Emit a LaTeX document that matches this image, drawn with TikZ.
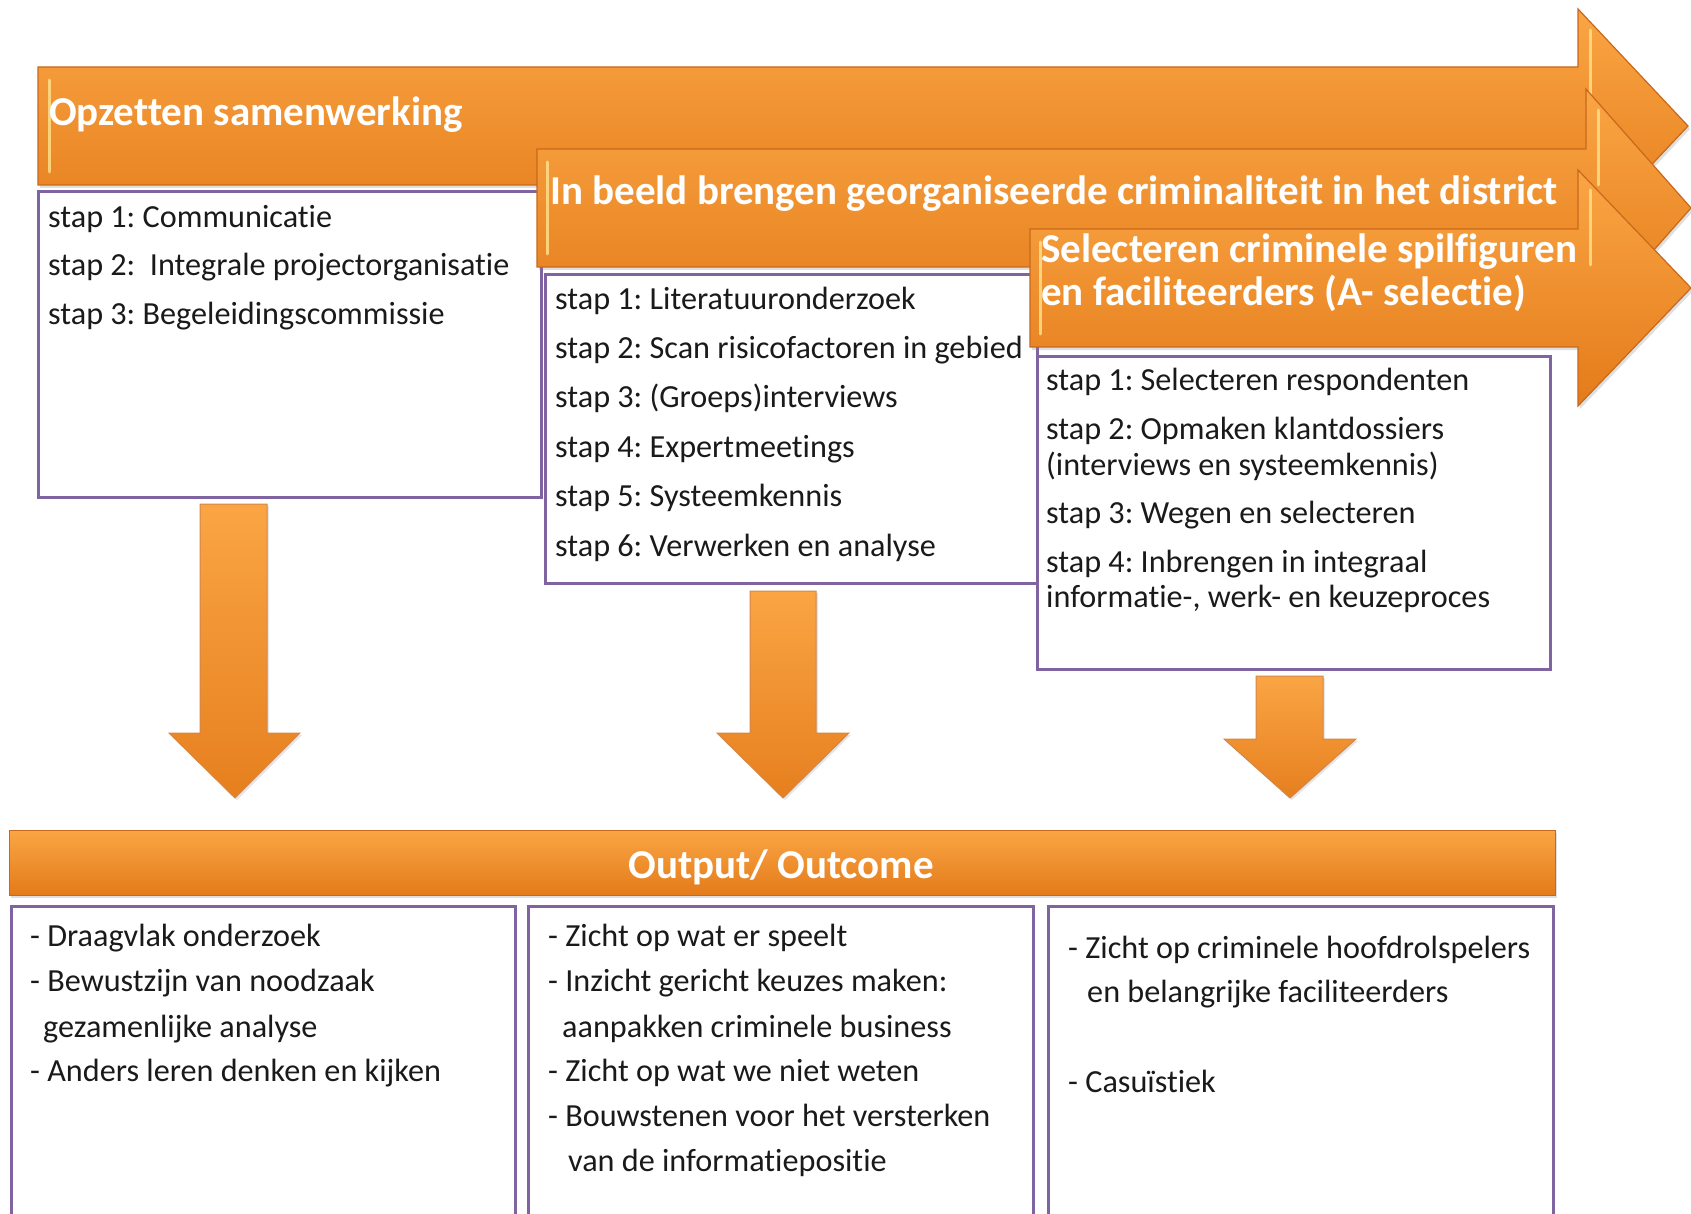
\documentclass[tikz,border=0pt]{standalone}
\usepackage{fontspec}
\setmainfont[Ligatures=NoCommon]{Carlito}
\usetikzlibrary{shadows}
\definecolor{orTop}{HTML}{FAA544}
\definecolor{orBot}{HTML}{E47B1A}
\definecolor{orEdge}{HTML}{C8681C}
\definecolor{boxPurple}{HTML}{8064A2}
\definecolor{hilite}{HTML}{FFE38F}
\definecolor{txt}{HTML}{1A1A1A}
\frenchspacing
\tikzset{
  bigarrow/.style={top color=orTop, bottom color=orBot, draw=orEdge, line width=1.2pt, line join=miter,
    drop shadow={opacity=0.25, shadow xshift=2pt, shadow yshift=-3pt}},
  downarrow/.style={top color=orTop, bottom color=orBot!90!orTop, draw=orEdge!80, line width=1pt, line join=miter,
    drop shadow={opacity=0.2, shadow xshift=2pt, shadow yshift=-2pt}},
  bevel/.style={draw=hilite, line width=3pt, opacity=0.8, line cap=round},
  stepbox/.style={draw=boxPurple, line width=3pt, fill=white},
  headtxt/.style={text=white, font=\fontsize{41}{45}\selectfont\bfseries, anchor=base west, inner sep=0pt},
  bodytxt/.style={text=txt, font=\fontsize{32.2}{37}\selectfont, anchor=base west, inner sep=0pt},
}
\begin{document}
\begin{tikzpicture}[x=1pt,y=-1pt]
\useasboundingbox[fill=white] (0,0) rectangle (1691,1214);

% ---- arrow 1 ----
\path[bigarrow] (38,67) -- (1578,67) -- (1578,9) -- (1688,126) -- (1578,243) -- (1578,185) -- (38,185) -- cycle;
\draw[bevel] (49,80) -- (49,172);
\draw[bevel] (1590,30) -- (1590,105);
\node[headtxt] (h1) at (49,126) {Opzetten samenwerking};
\draw[stepbox] (38,192) rectangle (541,497);
\node[bodytxt] (a1) at (48,228) {stap 1: Communicatie};
\node[bodytxt] (a2) at (48,276) {stap 2: \ Integrale projectorganisatie};
\node[bodytxt] (a3) at (48,325) {stap 3: Begeleidingscommissie};

% ---- arrow 2 ----
\path[bigarrow] (537,149) -- (1586,149) -- (1586,89) -- (1691,208) -- (1586,327) -- (1586,267) -- (537,267) -- cycle;
\draw[bevel] (547,162) -- (547,254);
\draw[bevel] (1598,110) -- (1598,185);
\node[headtxt] (h2) at (550,205) {In beeld brengen georganiseerde criminaliteit in het district};
\draw[stepbox] (545,275) rectangle (1037,583);
\node[bodytxt] (b1) at (555,310) {stap 1: Literatuuronderzoek};
\node[bodytxt] (b2) at (555,358) {stap 2: Scan risicofactoren in gebied};
\node[bodytxt] (b3) at (555,407) {stap 3: (Groeps)interviews};
\node[bodytxt] (b4) at (555,457) {stap 4: Expertmeetings};
\node[bodytxt] (b5) at (555,506) {stap 5: Systeemkennis};
\node[bodytxt] (b6) at (555,556) {stap 6: Verwerken en analyse};

% ---- arrow 3 ----
\path[bigarrow] (1030,229) -- (1578,229) -- (1578,170) -- (1691,288) -- (1578,406) -- (1578,347) -- (1030,347) -- cycle;
\draw[bevel] (1040,242) -- (1040,334);
\draw[bevel] (1590,190) -- (1590,265);
\node[headtxt] (h3a) at (1041,263) {Selecteren criminele spilfiguren};
\node[headtxt] (h3b) at (1041,306) {en faciliteerders (A- selectie)};
\draw[stepbox] (1037,356) rectangle (1550,669);
\node[bodytxt] (c1) at (1046,390) {stap 1: Selecteren respondenten};
\node[bodytxt] (c2) at (1046,439) {stap 2: Opmaken klantdossiers};
\node[bodytxt] (c2b) at (1046,475) {(interviews en systeemkennis)};
\node[bodytxt] (c3) at (1046,523) {stap 3: Wegen en selecteren};
\node[bodytxt] (c4) at (1046,572) {stap 4: Inbrengen in integraal};
\node[bodytxt] (c4b) at (1046,607) {informatie-, werk- en keuzeproces};

% ---- down arrows ----
\path[downarrow] (200,504) -- (267,504) -- (267,733) -- (300,733) -- (235,798) -- (169,733) -- (200,733) -- cycle;
\path[downarrow] (750,591) -- (816,591) -- (816,733) -- (849,733) -- (783,798) -- (717,733) -- (750,733) -- cycle;
\path[downarrow] (1256,676) -- (1323,676) -- (1323,739) -- (1356,739) -- (1290,798) -- (1224,739) -- (1256,739) -- cycle;

% ---- output bar ----
\path[top color=orTop, bottom color=orBot, draw=orEdge, line width=1pt,
  drop shadow={opacity=0.25, shadow xshift=2pt, shadow yshift=-3pt}] (9,830) rectangle (1555,895);
\node[headtxt, anchor=base] (out) at (781,878) {Output/ Outcome};

% ---- bottom boxes ----
\draw[stepbox] (11,906) rectangle (515,1240);
\draw[stepbox] (528,906) rectangle (1033,1240);
\draw[stepbox] (1048,906) rectangle (1553,1240);

\node[bodytxt] (d1) at (30,946) {- Draagvlak onderzoek};
\node[bodytxt] (d2) at (30,991) {- Bewustzijn van noodzaak};
\node[bodytxt] (d2b) at (43,1037) {gezamenlijke analyse};
\node[bodytxt] (d3) at (30,1081) {- Anders leren denken en kijken};

\node[bodytxt] (e1) at (548,946) {- Zicht op wat er speelt};
\node[bodytxt] (e2) at (548,991) {- Inzicht gericht keuzes maken:};
\node[bodytxt] (e2b) at (562,1037) {aanpakken criminele business};
\node[bodytxt] (e3) at (548,1081) {- Zicht op wat we niet weten};
\node[bodytxt] (e4) at (548,1126) {- Bouwstenen voor het versterken};
\node[bodytxt] (e4b) at (568,1171) {van de informatiepositie};

\node[bodytxt] (f1) at (1068,958) {- Zicht op criminele hoofdrolspelers};
\node[bodytxt] (f1b) at (1087,1002) {en belangrijke faciliteerders};
\node[bodytxt] (f2) at (1068,1092) {- Casuïstiek};
\end{tikzpicture}
\end{document}
